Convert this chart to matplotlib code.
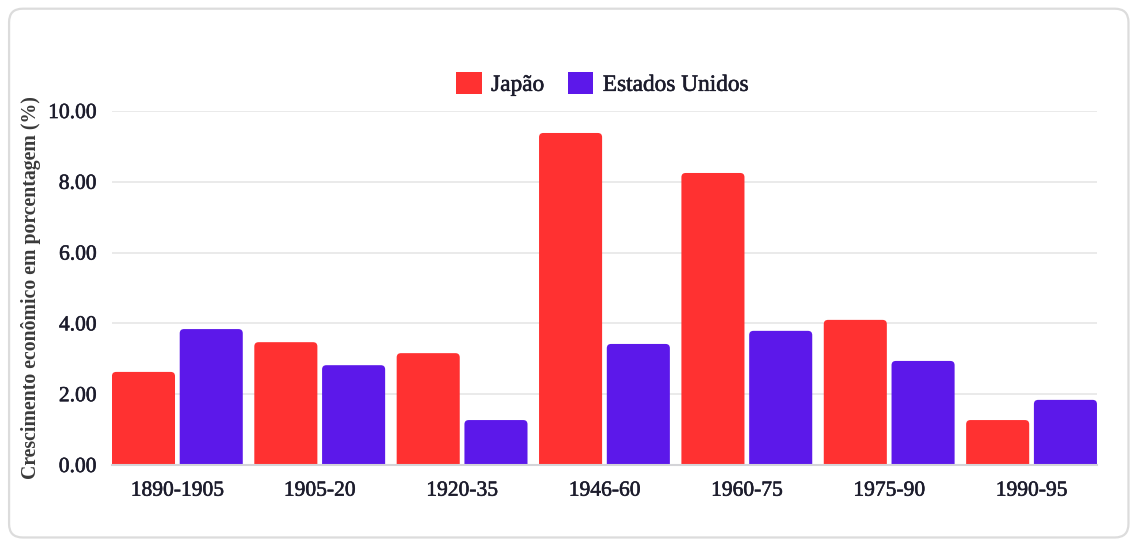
import matplotlib.pyplot as plt
import matplotlib.patheffects as pe
from matplotlib.patches import FancyBboxPatch, Patch
import numpy as np

periods = ["1890-1905", "1905-20", "1920-35", "1946-60", "1960-75", "1975-90", "1990-95"]
japao = [2.63, 3.47, 3.16, 9.38, 8.25, 4.10, 1.27]
eua = [3.84, 2.82, 1.27, 3.42, 3.79, 2.94, 1.84]
yticks = [0, 2, 4, 6, 8, 10]

red = "#ff3131"
purple = "#5c18ea"
txt = "#1c1c2c"

plt.rcParams['font.family'] = ['Liberation Serif', 'DejaVu Serif']
heavy = [pe.withStroke(linewidth=0.4, foreground=txt)]

fig = plt.figure(figsize=(11.33, 5.44), dpi=100)
frame = FancyBboxPatch((0.008, 0.012), 0.988, 0.972, boxstyle="round,pad=0,rounding_size=0.012",
                       transform=fig.transFigure, fc="white", ec="#dcdcdc", lw=1.6,
                       mutation_aspect=1133 / 544, zorder=-10)
fig.patches.append(frame)
ax = fig.add_axes([0.0988, 0.1452, 0.8694, 0.6507])
ax.patch.set_alpha(0)

x = np.arange(len(periods))
w = 0.443
off = 0.238
b1 = ax.bar(x - off, japao, w, color=red)
b2 = ax.bar(x + off, eua, w, color=purple)

# rounded top corners: rebuild each bar as a rounded box reaching below the axis
for bars in (b1, b2):
    for r in bars:
        bx, by, bw, bh = r.get_x(), r.get_y(), r.get_width(), r.get_height()
        rr = FancyBboxPatch((bx, by - 0.3), bw, bh + 0.3,
                            boxstyle="round,pad=0,rounding_size=0.03",
                            mutation_aspect=4.0, fc=r.get_facecolor(), ec="none", zorder=2)
        r.set_visible(False)
        ax.add_patch(rr)

ax.set_xlim(-off - w / 2, len(periods) - 1 + off + w / 2)
ax.set_ylim(0, 10)
ax.set_yticks(yticks)
ax.set_yticklabels([f"{v:.2f}" for v in yticks])
ax.set_xticks(x)
ax.set_xticklabels(periods)
ax.tick_params(axis='both', length=0, labelsize=15.5, colors=txt)
ax.tick_params(axis='y', pad=11)
ax.tick_params(axis='x', pad=12)
for lab in ax.get_xticklabels() + ax.get_yticklabels():
    lab.set_path_effects(heavy)
ax.grid(axis='y', color="#e6e6e6", lw=1.2)
ax.set_axisbelow(True)
for s in ("top", "right", "left"):
    ax.spines[s].set_visible(False)
ax.spines["bottom"].set_color("#d4d4d8")
ax.spines["bottom"].set_linewidth(1.5)
ax.spines["bottom"].set_zorder(3)

ax.set_ylabel("Crescimento econômico em porcentagem (%)", fontsize=14.2, fontweight='bold',
              color="#3a3a3a", labelpad=5)

handles = [Patch(fc=red, label="Japão"), Patch(fc=purple, label="Estados Unidos")]
leg = fig.legend(handles=handles, loc="center", bbox_to_anchor=(0.532, 0.846), ncol=2, frameon=False,
                 fontsize=16.8, handlelength=1.1, handleheight=1.1, handletextpad=0.4, columnspacing=1.0,
                 labelcolor=txt)
for t in leg.get_texts():
    t.set_path_effects(heavy)

fig.savefig("out.png", dpi=100)
